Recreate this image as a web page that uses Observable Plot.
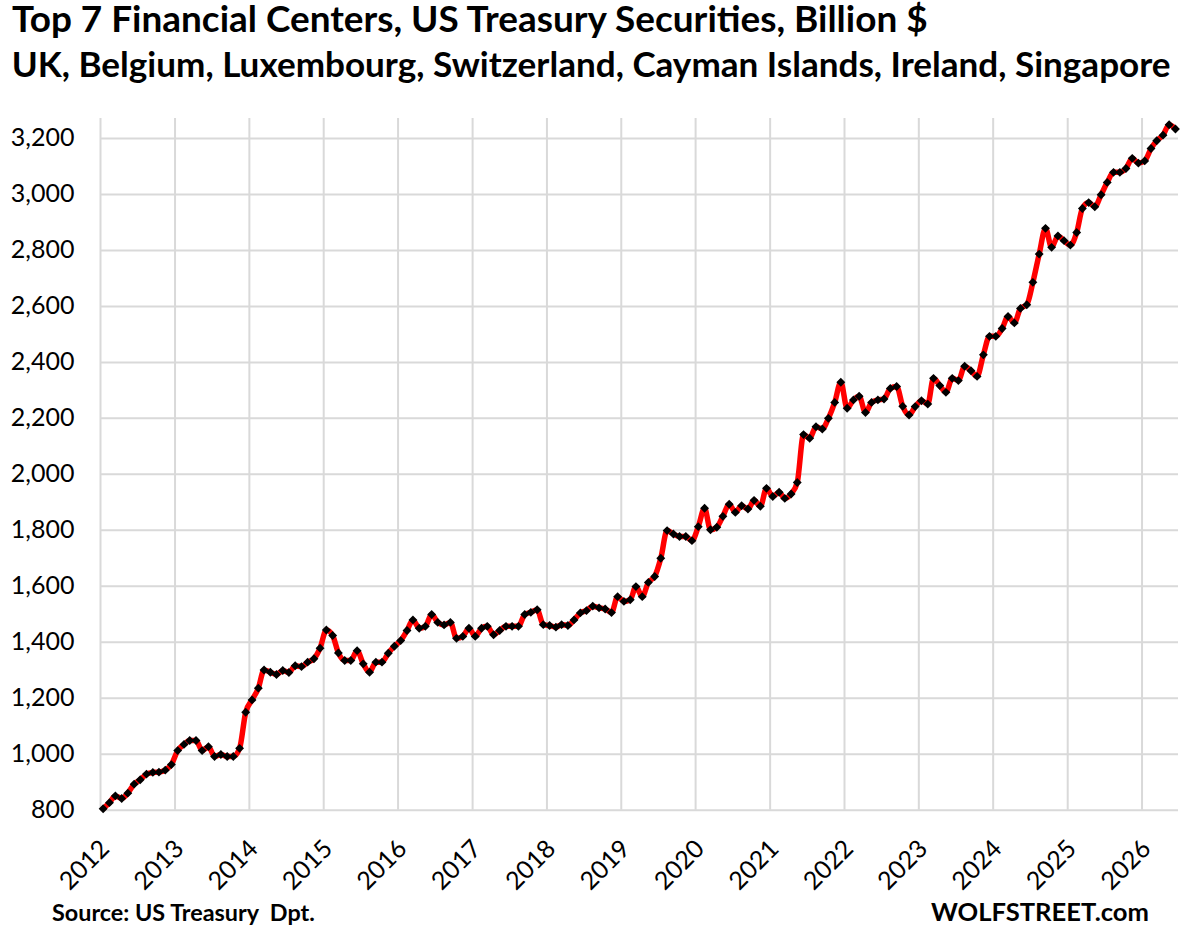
<!DOCTYPE html>
<html>
<head>
<meta charset="utf-8">
<script src="https://cdn.jsdelivr.net/npm/d3@7"></script>
<script src="https://cdn.jsdelivr.net/npm/@observablehq/plot@0.6"></script>
<style>
  html, body { margin: 0; padding: 0; background: #fff; }
  #page { position: relative; width: 1194px; height: 931px; overflow: hidden; background: #fff; font-family: Lato, "Open Sans", sans-serif; }
  .txt { position: absolute; white-space: pre; line-height: 1; font-weight: 700; color: #000; display: inline-block; }
  .mk { display: inline-block; width: 0; height: 0; }
  #chart { position: absolute; left: 0; top: 100px; }
</style>
</head>
<body>
<div id="page">
  <div id="chart"></div>
  <div class="txt" id="title">Top 7 Financial Centers, US Treasury Securities, Billion $</div>
  <div class="txt" id="subtitle">UK, Belgium, Luxembourg, Switzerland, Cayman Islands, Ireland, Singapore</div>
  <div class="txt" id="source">Source: US Treasury  Dpt.</div>
  <div class="txt" id="brand">WOLFSTREET.com</div>
</div>
<script>
// ---- data (billion $, monthly, Jan 2012 - Jun 2026) ----
const startYear = 2012;
const values = [
  805, 827, 851, 842, 861, 893, 909, 929, 935, 936, 943, 963,          // 2012
  1013, 1035, 1049, 1049, 1013, 1027, 992, 999, 992, 992, 1021, 1150,  // 2013
  1194, 1236, 1301, 1293, 1285, 1299, 1292, 1316, 1313, 1329, 1341, 1379, // 2014
  1444, 1424, 1362, 1335, 1335, 1370, 1323, 1293, 1329, 1329, 1361, 1386, // 2015
  1406, 1442, 1480, 1450, 1457, 1499, 1471, 1462, 1471, 1414, 1421, 1450, // 2016
  1421, 1450, 1457, 1427, 1442, 1457, 1457, 1457, 1499, 1507, 1516, 1463, // 2017
  1460, 1454, 1463, 1460, 1480, 1505, 1513, 1529, 1523, 1519, 1506, 1563, // 2018
  1546, 1552, 1599, 1563, 1614, 1635, 1700, 1799, 1787, 1778, 1778, 1763, // 2019
  1813, 1879, 1802, 1811, 1850, 1893, 1864, 1888, 1876, 1907, 1886, 1950, // 2020
  1921, 1936, 1914, 1930, 1971, 2142, 2129, 2170, 2162, 2200, 2257, 2329, // 2021
  2236, 2266, 2279, 2221, 2257, 2266, 2269, 2307, 2314, 2243, 2212, 2242, // 2022
  2263, 2251, 2343, 2317, 2293, 2343, 2335, 2386, 2370, 2350, 2427, 2493, // 2023
  2493, 2521, 2564, 2541, 2593, 2606, 2686, 2787, 2879, 2811, 2852, 2835, // 2024
  2819, 2864, 2950, 2971, 2956, 2999, 3043, 3079, 3079, 3093, 3129, 3112, // 2025
  3120, 3164, 3192, 3212, 3249, 3234                                      // 2026
];
const yearLabels = [2012, 2013, 2014, 2015, 2016, 2017, 2018, 2019, 2020, 2021, 2022, 2023, 2024, 2025, 2026];
const yTicks = [800, 1000, 1200, 1400, 1600, 1800, 2000, 2200, 2400, 2600, 2800, 3000, 3200];

const data = values.map((v, i) => ({ date: new Date(Date.UTC(startYear, i, 14)), value: v }));
const yearDates = yearLabels.map(y => new Date(Date.UTC(y, 0, 1)));

const grid = "#d9d9d9";
const chart = Plot.plot({
  width: 1194,
  height: 800,
  marginLeft: 100,
  marginRight: 16,
  marginTop: 10,
  marginBottom: 90.3,
  style: { fontFamily: "Lato, 'Open Sans', sans-serif", fontSize: "25px", color: "#000", background: "transparent" },
  x: { type: "utc", domain: [new Date(Date.UTC(2012, 0, 1)), new Date(Date.UTC(2026, 5, 29))], axis: null },
  y: { domain: [800, 3300], axis: null },
  marks: [
    Plot.ruleY(yTicks, { stroke: grid, strokeWidth: 2 }),
    Plot.ruleX(yearDates, { y1: 800, y2: 3300, stroke: grid, strokeWidth: 2, insetBottom: -8 }),
    Plot.axisY(yTicks, { tickSize: 0, tickPadding: 26, tickFormat: d3.format(","), fill: "#000", label: null }),
    Plot.text(yearLabels, {
      x: d => new Date(Date.UTC(d, 0, 1)),
      frameAnchor: "bottom",
      text: d => String(d),
      rotate: -45,
      textAnchor: "middle",
      lineAnchor: "middle",
      dx: -16,
      dy: 55,
      fill: "#000"
    }),
    Plot.line(data, { x: "date", y: "value", stroke: "#ff0000", strokeWidth: 5.5, curve: "monotone-x" }),
    Plot.dot(data, { x: "date", y: "value", symbol: "diamond2", r: 4, fill: "#000", stroke: null })
  ]
});
document.getElementById("chart").appendChild(chart);

// ---- fit header / footer text to the reference widths and baselines ----
function place(id, left, width, baseline) {
  const el = document.getElementById(id);
  const mk = document.createElement("span");
  mk.className = "mk";
  el.appendChild(mk);
  el.style.fontSize = "100px";
  const w = el.getBoundingClientRect().width;
  const fs = 100 * width / w;
  el.style.fontSize = fs + "px";
  el.style.left = left + "px";
  el.style.top = "0px";
  const base = mk.getBoundingClientRect().top - el.getBoundingClientRect().top;
  el.style.top = (baseline - base) + "px";
}
place("title", 12, 916, 31.7);
place("subtitle", 11.7, 1159, 77.3);
place("source", 52, 263, 921);
place("brand", 931, 218, 921);
</script>
</body>
</html>
